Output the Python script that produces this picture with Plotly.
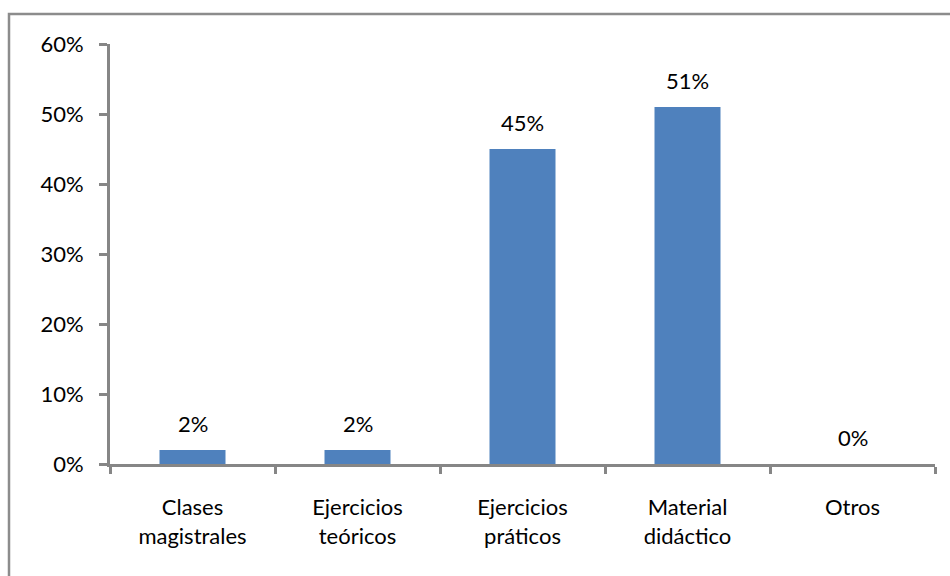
import plotly.graph_objects as go

# Survey results: preferred teaching resource
categories = ["Clases<br>magistrales", "Ejercicios<br>teóricos", "Ejercicios<br>práticos",
              "Material<br>didáctico", "Otros"]
values = [2, 2, 45, 51, 0]
y_ticks = [0, 10, 20, 30, 40, 50, 60]
y_tick_labels = [f"{t}%" for t in y_ticks]

FONT = "Lato"
FONT_SIZE = 22
AXIS_GRAY = "#868686"

fig = go.Figure()
fig.add_trace(go.Bar(
    x=categories,
    y=values,
    width=0.4,
    marker=dict(color="#4F81BD", line=dict(width=0)),
    hoverinfo="skip",
))

# value labels above each bar
for c, v in zip(categories, values):
    fig.add_annotation(
        x=c, y=v, text=f"{v}%", showarrow=False,
        yanchor="bottom", yshift=11,
        font=dict(family=FONT, size=FONT_SIZE, color="#000000"),
    )

# chart frame
fig.add_shape(
    type="rect", xref="paper", yref="paper",
    x0=(9 - 110) / 825, x1=(960 - 110) / 825,
    y0=(464 - 590) / 420, y1=(464 - 14) / 420,
    line=dict(color="#8c8c8c", width=2.5), fillcolor="rgba(0,0,0,0)",
    layer="below",
)

fig.update_layout(
    width=950, height=576,
    margin=dict(l=110, r=15, t=44, b=112),
    paper_bgcolor="white", plot_bgcolor="white",
    showlegend=False,
    font=dict(family=FONT, size=FONT_SIZE, color="#000000"),
    xaxis=dict(
        type="category",
        showline=True, linecolor=AXIS_GRAY, linewidth=3,
        ticks="outside", tickson="boundaries", ticklen=7, tickwidth=3, tickcolor=AXIS_GRAY,
        showgrid=False, zeroline=False,
        tickfont=dict(family=FONT, size=FONT_SIZE, color="#000000"),
        ticklabelstandoff=22,
    ),
    yaxis=dict(
        range=[0, 60],
        tickvals=y_ticks, ticktext=y_tick_labels,
        showline=True, linecolor=AXIS_GRAY, linewidth=3,
        ticks="outside", ticklen=8, tickwidth=3, tickcolor=AXIS_GRAY,
        showgrid=False, zeroline=False,
        tickfont=dict(family=FONT, size=FONT_SIZE, color="#000000"),
        ticklabelstandoff=11,
    ),
)

fig.write_html("out.html")
